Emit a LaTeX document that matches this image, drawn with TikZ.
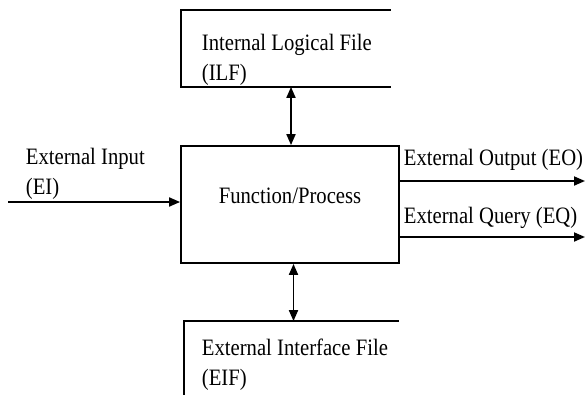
\documentclass[tikz,border=0pt]{standalone}
\usepackage{fontspec}
\setmainfont[FakeStretch=0.88]{Liberation Serif}
\usetikzlibrary{arrows.meta}
\newcommand\labelfont{\fontsize{23.5}{30}\selectfont}
\begin{document}
\begin{tikzpicture}[x=1pt,y=-1pt,line width=1.8pt,
  lbl/.style={font=\labelfont, inner sep=0pt,
              anchor=base west, text width=220pt, align=flush left},
  frame/.style={inner sep=0pt, draw=none},
  tipa/.tip={Triangle[length=11pt,width=9pt]},
  flow/.style={-tipa},
  twoway/.style={tipa-tipa}]
\useasboundingbox (0,0) rectangle (588,394);

% central process box
\node[frame, draw, minimum width=218pt, minimum height=117pt] (fp) at (290,204.5) {};
\node[lbl, anchor=base, text width=, align=center] (fptext) at (290,203) {Function/Process};

% internal logical file (open on the right)
\node[frame, minimum width=208pt, minimum height=75pt] (ilf) at (286,48.5) {};
\draw (ilf.north east) -- (ilf.north west) -- (ilf.south west) -- (ilf.south east);
\node[lbl] (ilftext) at (201,50) {Internal Logical File\\(ILF)};

% external interface file (open on the right and bottom)
\node[frame, minimum width=213pt, minimum height=80pt] (eif) at (291.5,362) {};
\draw (eif.north east) -- (eif.north west) -- (eif.south west);
\node[lbl] (eiftext) at (201,355) {External Interface File\\(EIF)};

% input and outputs
\coordinate (eistart) at (8,202);
\coordinate (eoend) at (585,181);
\coordinate (eqend) at (585,237);
\node[lbl] (eitext) at (25,164) {External Input\\(EI)};
\node[lbl] (eotext) at (403,165) {External Output (EO)};
\node[lbl] (eqtext) at (403,223) {External Query (EQ)};

\draw[flow] (eistart) -- (eistart -| fp.west);
\draw[flow] (eoend -| fp.east) -- (eoend);
\draw[flow] (eqend -| fp.east) -- (eqend);

% file exchanges
\draw[twoway] ([xshift=1pt]fp.north |- ilf.south) -- ([xshift=1pt]fp.north);
\draw[twoway] ([xshift=3.5pt]fp.south) -- ([xshift=3.5pt]fp.south |- eif.north);
\end{tikzpicture}
\end{document}
